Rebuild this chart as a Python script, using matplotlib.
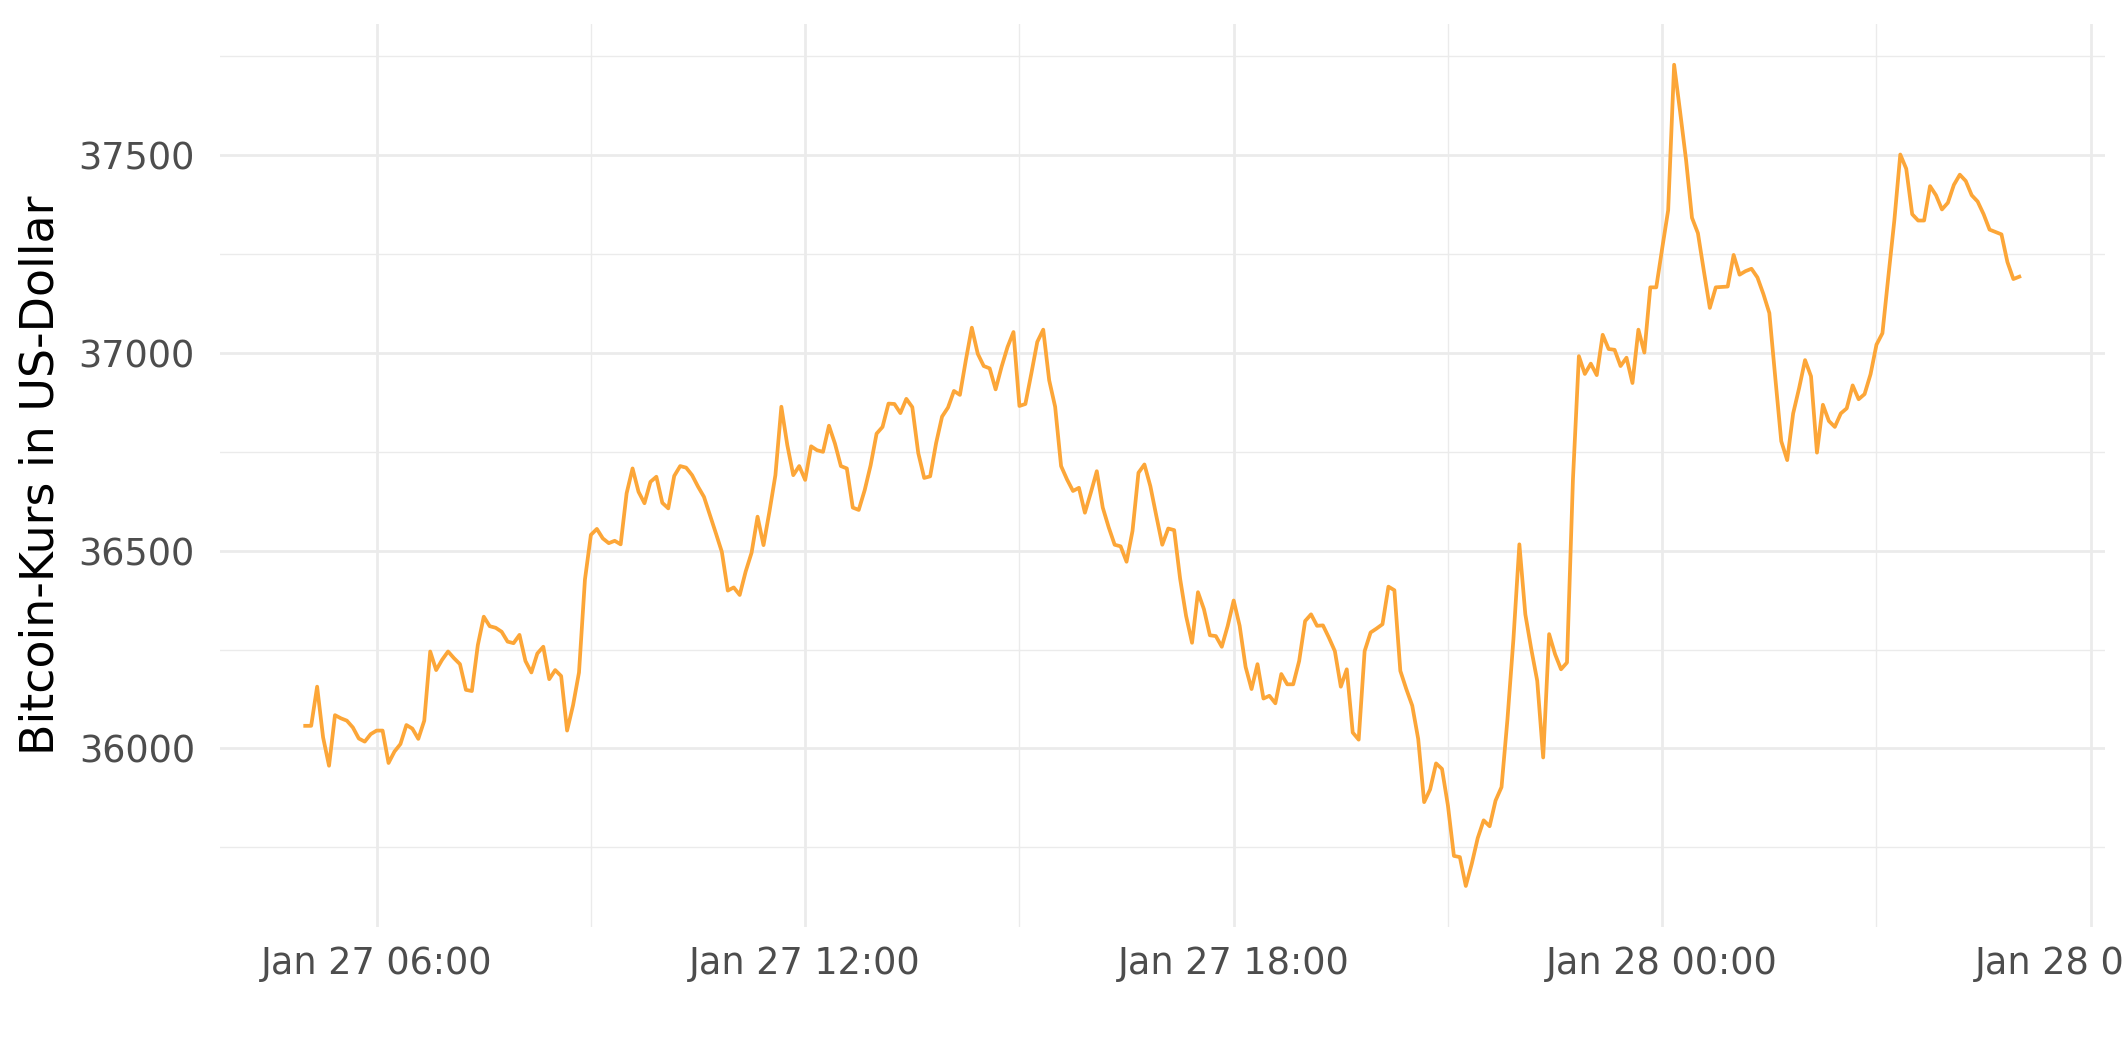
import matplotlib
matplotlib.use("Agg")
import matplotlib.pyplot as plt
import matplotlib.dates as mdates
import pandas as pd

# Bitcoin price, 5-minute steps from Jan 27 2022 05:00
start_time = "2022-01-27 05:00"
step = "5min"
prices = [
    36057, 36057, 36156, 36028, 35956, 36084, 36076, 36070, 36053, 36025,
    36017, 36036, 36045, 36045, 35963, 35992, 36011, 36059, 36050, 36024,
    36070, 36245, 36198, 36224, 36245, 36228, 36213, 36148, 36145, 36261,
    36333, 36309, 36305, 36295, 36270, 36266, 36287, 36221, 36192, 36240,
    36257, 36175, 36198, 36183, 36045, 36109, 36192, 36427, 36540, 36555,
    36531, 36519, 36525, 36516, 36645, 36708, 36649, 36620, 36674, 36687,
    36621, 36607, 36689, 36714, 36710, 36691, 36662, 36636, 36590, 36544,
    36497, 36399, 36407, 36388, 36447, 36495, 36586, 36514, 36599, 36691,
    36864, 36767, 36691, 36714, 36679, 36764, 36754, 36750, 36816, 36771,
    36714, 36708, 36609, 36603, 36653, 36716, 36796, 36813, 36872, 36871,
    36848, 36884, 36863, 36747, 36684, 36688, 36772, 36839, 36862, 36904,
    36894, 36982, 37064, 36998, 36967, 36961, 36908, 36965, 37015, 37053,
    36866, 36871, 36948, 37028, 37059, 36931, 36864, 36714, 36680, 36651,
    36659, 36596, 36647, 36701, 36609, 36559, 36515, 36511, 36472, 36550,
    36697, 36718, 36663, 36588, 36515, 36556, 36552, 36429, 36335, 36267,
    36395, 36352, 36286, 36284, 36257, 36310, 36374, 36310, 36206, 36150,
    36213, 36126, 36133, 36114, 36188, 36162, 36162, 36221, 36322, 36339,
    36310, 36311, 36280, 36246, 36156, 36200, 36040, 36022, 36246, 36293,
    36303, 36314, 36409, 36400, 36196, 36150, 36108, 36024, 35864, 35896,
    35962, 35948, 35855, 35728, 35725, 35652, 35708, 35773, 35818, 35803,
    35868, 35902, 36074, 36276, 36516, 36339, 36251, 36171, 35977, 36289,
    36238, 36200, 36217, 36680, 36992, 36947, 36973, 36944, 37046, 37010,
    37008, 36967, 36988, 36924, 37059, 37001, 37166, 37166, 37265, 37361,
    37729, 37611, 37489, 37342, 37303, 37207, 37114, 37166, 37167, 37168,
    37248, 37198, 37207, 37213, 37191, 37149, 37101, 36937, 36777, 36729,
    36847, 36911, 36982, 36941, 36748, 36869, 36828, 36813, 36847, 36860,
    36918, 36883, 36896, 36946, 37021, 37050, 37194, 37335, 37502, 37466,
    37351, 37335, 37335, 37422, 37399, 37363, 37380, 37425, 37451, 37435,
    37399, 37383, 37351, 37312, 37306, 37300, 37230, 37187, 37193,
]
y_major = [36000, 36500, 37000, 37500]
y_minor = [35750, 36250, 36750, 37250, 37750]

times = pd.date_range(start_time, periods=len(prices), freq=step)

fig = plt.figure(figsize=(2125 / 300, 1062 / 300), dpi=300)
ax = fig.add_axes([0.1033, 0.1271, 0.8873, 0.8506])

ax.plot(times, prices, color="#FCA638", lw=0.9, zorder=3)

# ggplot-style 5% expansion
span = times[-1] - times[0]
ax.set_xlim(times[0] - 0.05 * span, times[-1] + 0.05 * span)
lo, hi = min(prices), max(prices)
ax.set_ylim(lo - 0.05 * (hi - lo), hi + 0.05 * (hi - lo))

ax.xaxis.set_major_locator(mdates.HourLocator(byhour=[0, 6, 12, 18]))
ax.xaxis.set_minor_locator(mdates.HourLocator(byhour=[3, 9, 15, 21]))
ax.xaxis.set_major_formatter(mdates.DateFormatter("%b %d %H:%M"))
ax.set_yticks(y_major)
ax.set_yticks(y_minor, minor=True)

ax.grid(which="major", color="#EBEBEB", lw=0.65)
ax.grid(which="minor", color="#EBEBEB", lw=0.33)
ax.set_axisbelow(True)
for s in ax.spines.values():
    s.set_visible(False)

ax.tick_params(which="both", length=0, labelsize=8.8, labelcolor="#4D4D4D")
ax.tick_params(axis="x", pad=4.4)
ax.tick_params(axis="y", pad=5.9)

ax.set_ylabel("Bitcoin-Kurs in US-Dollar", fontsize=11, color="black")
ax.yaxis.set_label_coords(-0.083, 0.5)

fig.savefig("out.png", dpi=300)
